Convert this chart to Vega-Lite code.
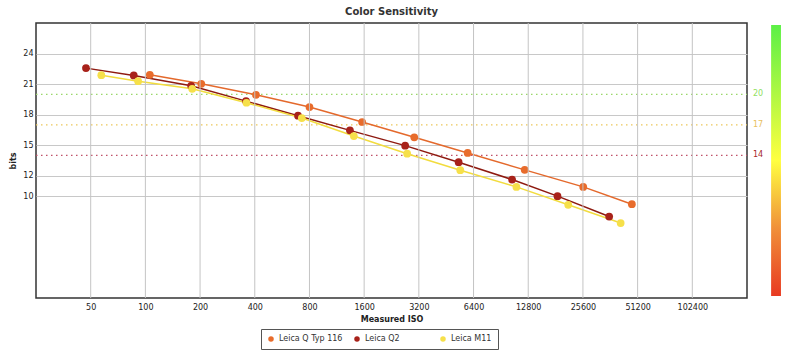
{
  "$schema": "https://vega.github.io/schema/vega-lite/v6.json",
  "autosize": {"type": "none"},
  "width": 711,
  "height": 275,
  "padding": {"left": 36, "top": 23, "right": 53, "bottom": 55},
  "background": "white",
  "title": {"text": "Color Sensitivity", "fontSize": 10, "font": "DejaVu Sans", "fontWeight": "bold", "color": "#333", "offset": 6},
  "config": {
    "font": "DejaVu Sans",
    "view": {"stroke": "#333", "strokeWidth": 1.5},
    "axis": {"labelFont": "DejaVu Sans", "labelFontSize": 8, "labelColor": "#222", "titleFont": "DejaVu Sans", "titleFontSize": 8, "titleFontWeight": "bold", "titleColor": "#222", "gridColor": "#c8c8c8", "gridWidth": 1, "domain": false, "ticks": false}
  },
  "datasets": {
    "series": [
      {"camera": "Leica Q Typ 116", "iso": 105.8, "bits": 21.91},
      {"camera": "Leica Q Typ 116", "iso": 203, "bits": 21.03},
      {"camera": "Leica Q Typ 116", "iso": 406, "bits": 19.95},
      {"camera": "Leica Q Typ 116", "iso": 800, "bits": 18.75},
      {"camera": "Leica Q Typ 116", "iso": 1559, "bits": 17.28},
      {"camera": "Leica Q Typ 116", "iso": 3020, "bits": 15.78},
      {"camera": "Leica Q Typ 116", "iso": 5940, "bits": 14.24},
      {"camera": "Leica Q Typ 116", "iso": 12240, "bits": 12.58},
      {"camera": "Leica Q Typ 116", "iso": 25700, "bits": 10.91},
      {"camera": "Leica Q Typ 116", "iso": 47600, "bits": 9.21},
      {"camera": "Leica Q2", "iso": 47.1, "bits": 22.57},
      {"camera": "Leica Q2", "iso": 86.3, "bits": 21.85},
      {"camera": "Leica Q2", "iso": 178.6, "bits": 20.83},
      {"camera": "Leica Q2", "iso": 358, "bits": 19.33},
      {"camera": "Leica Q2", "iso": 692, "bits": 17.9},
      {"camera": "Leica Q2", "iso": 1336, "bits": 16.46},
      {"camera": "Leica Q2", "iso": 2690, "bits": 14.96},
      {"camera": "Leica Q2", "iso": 5298, "bits": 13.33},
      {"camera": "Leica Q2", "iso": 10430, "bits": 11.63},
      {"camera": "Leica Q2", "iso": 18550, "bits": 10.0},
      {"camera": "Leica Q2", "iso": 35700, "bits": 8.0},
      {"camera": "Leica M11", "iso": 57.2, "bits": 21.88},
      {"camera": "Leica M11", "iso": 91.2, "bits": 21.29},
      {"camera": "Leica M11", "iso": 181, "bits": 20.54},
      {"camera": "Leica M11", "iso": 360, "bits": 19.17},
      {"camera": "Leica M11", "iso": 726, "bits": 17.67},
      {"camera": "Leica M11", "iso": 1404, "bits": 15.9},
      {"camera": "Leica M11", "iso": 2760, "bits": 14.17},
      {"camera": "Leica M11", "iso": 5410, "bits": 12.55},
      {"camera": "Leica M11", "iso": 11020, "bits": 10.91},
      {"camera": "Leica M11", "iso": 21240, "bits": 9.15},
      {"camera": "Leica M11", "iso": 41300, "bits": 7.36}
    ],
    "levels": [
      {"level": 20},
      {"level": 17},
      {"level": 14}
    ],
    "isoTicks": [
      {"iso": 50}, {"iso": 100}, {"iso": 200}, {"iso": 400}, {"iso": 800}, {"iso": 1600},
      {"iso": 3200}, {"iso": 6400}, {"iso": 12800}, {"iso": 25600}, {"iso": 51200}, {"iso": 102400}
    ]
  },
  "layer": [
    {
      "data": {"name": "levels"},
      "mark": {"type": "rule", "strokeDash": [1.5, 3.5], "strokeWidth": 1.2},
      "encoding": {
        "x": {"datum": 25, "type": "quantitative", "title": "Measured ISO", "scale": {"type": "log", "domain": [25, 204800], "nice": false},
              "axis": {"values": [50, 100, 200, 400, 800, 1600, 3200, 6400, 12800, 25600, 51200, 102400], "format": "d", "labelPadding": 5, "titlePadding": 4, "grid": false}},
        "x2": {"datum": 204800},
        "y": {"field": "level", "type": "quantitative", "title": "bits", "scale": {"domain": [0, 27], "nice": false, "zero": false},
              "axis": {"values": [10, 12, 15, 18, 21, 24], "labelPadding": 3, "titlePadding": 5, "grid": true}},
        "color": {"field": "level", "type": "nominal", "scale": {"domain": [20, 17, 14], "range": ["#9ad86a", "#ecc85a", "#c05068"]}, "legend": null}
      }
    },
    {
      "data": {"name": "levels"},
      "mark": {"type": "text", "align": "left", "baseline": "middle", "dx": 6, "fontSize": 8},
      "encoding": {
        "x": {"datum": 204800, "type": "quantitative", "title": "Measured ISO"},
        "y": {"field": "level", "type": "quantitative", "title": "bits"},
        "text": {"field": "level", "type": "nominal"},
        "color": {"field": "level", "type": "nominal", "scale": {"domain": [20, 17, 14], "range": ["#90e060", "#e8c060", "#a82828"]}, "legend": null}
      }
    },
    {
      "data": {"values": [{}]},
      "mark": {"type": "rect", "clip": false, "color": {"gradient": "linear", "x1": 0, "y1": 0, "x2": 0, "y2": 1, "stops": [{"offset": 0, "color": "#5cf046"}, {"offset": 0.5, "color": "#ffff40"}, {"offset": 0.75, "color": "#f0903a"}, {"offset": 1, "color": "#e83a22"}]}},
      "encoding": {
        "x": {"datum": 278000, "type": "quantitative", "title": "Measured ISO"},
        "x2": {"datum": 315000},
        "y": {"datum": 0.2, "type": "quantitative", "title": "bits"},
        "y2": {"datum": 26.8}
      }
    },
    {
      "data": {"name": "series"},
      "mark": {"type": "line", "strokeWidth": 1.5},
      "encoding": {
        "x": {"field": "iso", "type": "quantitative", "title": "Measured ISO"},
        "y": {"field": "bits", "type": "quantitative", "title": "bits"},
        "color": {"field": "camera", "type": "nominal",
                  "scale": {"domain": ["Leica Q Typ 116", "Leica Q2", "Leica M11"], "range": ["#e4692c", "#8e1a10", "#f2dc3e"]}, "legend": null},
        "order": {"field": "iso", "type": "quantitative"}
      }
    },
    {
      "data": {"name": "series"},
      "mark": {"type": "point", "filled": true, "opacity": 1, "size": 60},
      "encoding": {
        "x": {"field": "iso", "type": "quantitative", "title": "Measured ISO"},
        "y": {"field": "bits", "type": "quantitative", "title": "bits"},
        "fill": {"field": "camera", "type": "nominal",
                  "scale": {"domain": ["Leica Q Typ 116", "Leica Q2", "Leica M11"], "range": ["#e86c2c", "#a8221a", "#f6e04a"]},
                  "legend": {"title": null, "orient": "none", "legendX": 225, "legendY": 306, "direction": "horizontal", "strokeColor": "#555", "padding": 6, "labelFontSize": 8, "labelColor": "#333", "labelFont": "DejaVu Sans", "symbolType": "circle", "symbolSize": 30, "gridAlign": "all", "columnPadding": 10}}
      }
    },
    {
      "data": {"name": "isoTicks"},
      "mark": {"type": "rule", "color": "#c4c4c4", "strokeWidth": 1},
      "encoding": {
        "x": {"field": "iso", "type": "quantitative", "title": "Measured ISO"},
        "y": {"datum": 0, "type": "quantitative", "title": "bits"},
        "y2": {"datum": 27}
      }
    }
  ],
  "resolve": {"scale": {"color": "independent"}}
}
